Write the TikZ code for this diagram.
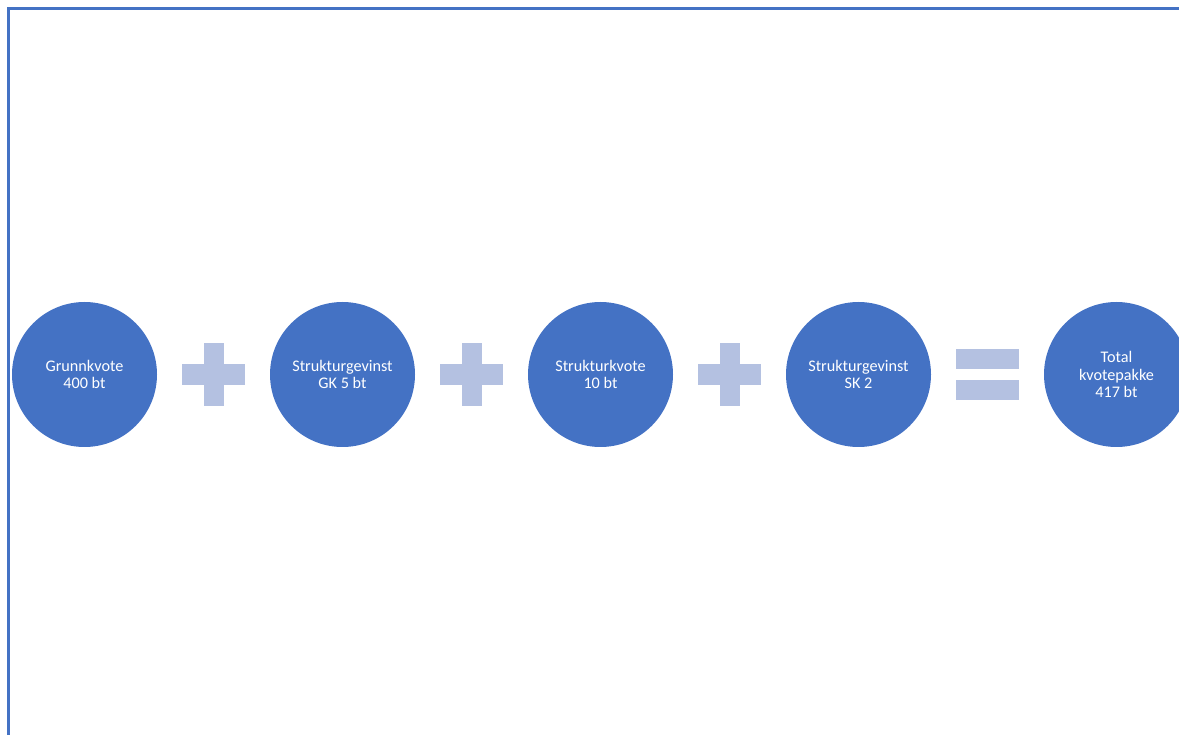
\documentclass[tikz,border=0pt]{standalone}
\usepackage{fontspec}
\setmainfont{Carlito}
\definecolor{accent}{HTML}{4472C4}
\definecolor{opcol}{HTML}{B4C1E1}
\begin{document}
\begin{tikzpicture}[x=1pt,y=-1pt,
  bubble/.style={circle,fill=accent,minimum size=145pt,inner sep=0pt,
    text=white,align=center,font=\fontsize{16.2}{17.5}\selectfont},
  opfill/.style={fill=opcol,draw=none}]
\useasboundingbox (0,0) rectangle (1179,735);
\clip (0,0) rectangle (1179,735);
% frame
\draw[accent,line width=2.2pt] (8.5,736) -- (8.5,8.5) -- (1180,8.5);
% circles
\node[bubble] (c1) at (84.5,374.5) {Grunnkvote\\400 bt};
\node[bubble] (c2) at (342.5,374.5) {Strukturgevinst\\GK 5 bt};
\node[bubble] (c3) at (600.5,374.5) {Strukturkvote\\10 bt};
\node[bubble] (c4) at (858.5,374.5) {Strukturgevinst\\SK 2};
\node[bubble] (c5) at (1116.5,374.5) {Total\\kvotepakke\\417 bt};
% plus signs
\foreach \cx in {213.5,471.5,729.5}{
  \fill[opfill] (\cx-31.5,364) rectangle (\cx+31.5,385);
  \fill[opfill] (\cx-10,343) rectangle (\cx+10,406);
}
% equals sign
\fill[opfill] (956,349.3) rectangle (1019,369.3);
\fill[opfill] (956,380) rectangle (1019,400);
\end{tikzpicture}
\end{document}
